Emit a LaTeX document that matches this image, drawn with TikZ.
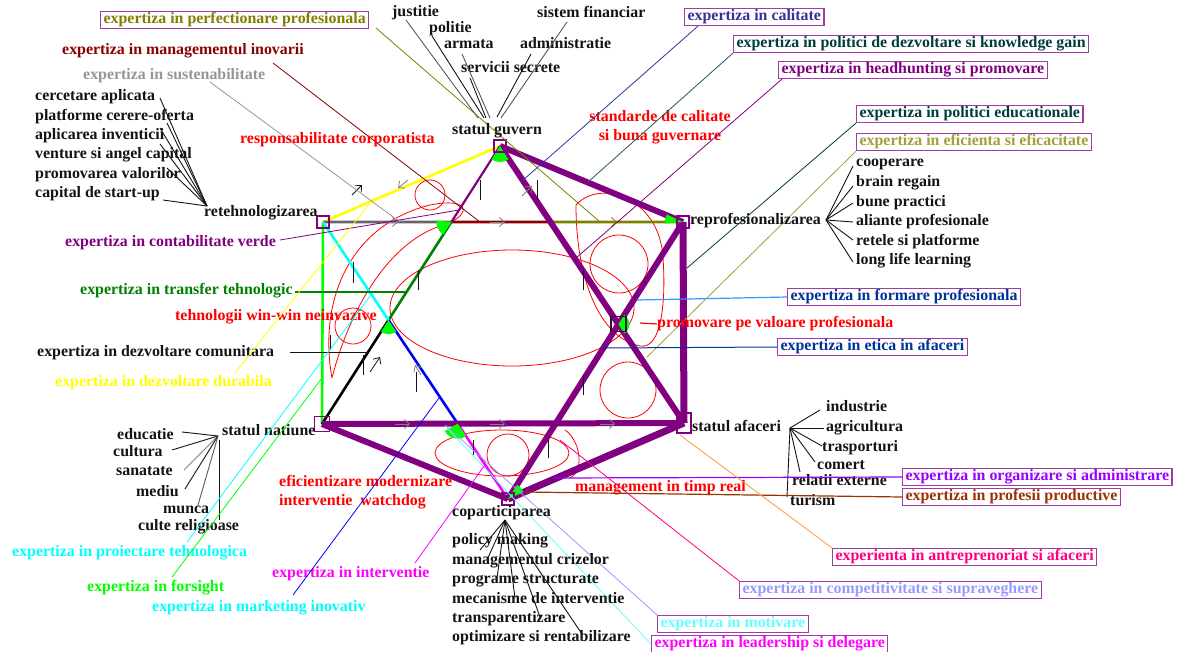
\documentclass[tikz,border=0pt]{standalone}
\usepackage{fontspec}
\setmainfont{Liberation Serif}
\usetikzlibrary{calc,arrows.meta}
\definecolor{cpurple}{RGB}{128,0,128}
\definecolor{cbox}{RGB}{160,60,170}
\definecolor{colive}{RGB}{128,128,0}
\definecolor{colivelt}{RGB}{160,160,60}
\definecolor{cdred}{RGB}{139,0,0}
\definecolor{cgray}{RGB}{150,150,150}
\definecolor{cdgreen}{RGB}{0,128,0}
\definecolor{cgreen}{RGB}{0,255,0}
\definecolor{cyellow}{RGB}{255,255,0}
\definecolor{ccyan}{RGB}{0,255,255}
\definecolor{cblue}{RGB}{0,0,255}
\definecolor{cmag}{RGB}{255,0,255}
\definecolor{cnavy}{RGB}{51,51,153}
\definecolor{cslate}{RGB}{40,90,90}
\definecolor{cteal}{RGB}{0,60,60}
\definecolor{cbluetxt}{RGB}{0,51,153}
\definecolor{cviolet}{RGB}{153,0,255}
\definecolor{cbrown}{RGB}{153,51,0}
\definecolor{cpink}{RGB}{255,0,128}
\definecolor{clav}{RGB}{153,153,255}
\definecolor{clcyan}{RGB}{102,255,255}
\definecolor{corange}{RGB}{255,153,51}
\definecolor{clblue}{RGB}{51,153,255}
\definecolor{cred}{RGB}{255,0,0}
\definecolor{cdark}{RGB}{20,20,20}
\tikzset{
  lb/.style={font=\fontsize{15.9}{18.5}\selectfont\bfseries, inner sep=0pt, anchor=west, text height=10.5pt, text depth=3.5pt, text=cdark},
  xb/.style={lb, draw=cbox, line width=1.2pt, inner xsep=3pt, inner ysep=1.5pt, fill=white},
  hubbox/.style={draw=cpurple, line width=1.3pt, minimum size=12pt, inner sep=0pt},
  heavy/.style={draw=cpurple, line width=6pt},
  seg/.style={line width=2.6pt},
  lead/.style={line width=0.8pt},
  blk/.style={line width=0.9pt, draw=cdark},
  scribble/.style={draw=cred, line width=0.8pt},
  chev/.style={-{Straight Barb[length=5pt,width=9pt]}, line width=0.8pt, draw=gray},
  tick/.style={line width=0.9pt, draw=cdark}
}
\begin{document}
\begin{tikzpicture}[x=1pt,y=-1pt]
\useasboundingbox (0,0) rectangle (1184,651);
\fill[white] (0,0) rectangle (1184,651);
% ---------- vertices
\coordinate (G) at (500,146);
\coordinate (R) at (323,222);
\coordinate (P) at (683,222);
\coordinate (A) at (684,423);
\coordinate (C) at (508,499);
\coordinate (N) at (322,424);
\coordinate (X1) at (intersection of N--G and R--P);
\coordinate (X2) at (intersection of N--G and R--C);
\coordinate (X3) at (intersection of R--C and N--A);
\coordinate (X4) at (intersection of G--A and R--P);
\coordinate (M) at (intersection of G--A and P--C);
% ---------- red scribbles
\draw[scribble] (512,308) ellipse [x radius=122, y radius=58];
\draw[scribble] (430,195) circle [radius=15];
\draw[scribble] (353,326) circle [radius=18];
\draw[scribble] (619,264) circle [radius=29];
\draw[scribble] (628,390) circle [radius=28];
\draw[scribble] (508,455) circle [radius=21];
\draw[scribble] (502,453) ellipse [x radius=67, y radius=23];
\draw[scribble] (332,378) .. controls (318,300) and (350,225) .. (430,205) .. controls (475,196) and (470,218) .. (440,226) .. controls (385,245) and (348,315) .. (332,378);
\draw[scribble] (576,205) .. controls (600,178) and (660,198) .. (663,258) .. controls (666,300) and (662,350) .. (640,346) .. controls (600,338) and (576,280) .. (576,205);
\draw[scribble] (565,430) .. controls (580,440) and (585,470) .. (570,478);
% ---------- hexagram lines
\draw[seg,draw=cyellow] (R) -- (G);
\draw[seg,draw=cgreen] (R) -- (N);
\draw[seg,draw=gray!80!black] (R) -- (X1);
\draw[seg,draw=cdred] (X1) -- (X4);
\draw[seg,draw=colive] (X4) -- (P);
\draw[seg,draw=black] (N) -- (X2);
\draw[seg,draw=cdgreen] (X2) -- (X1);
\draw[seg,draw=cpurple,line width=2.2pt] (X1) -- (G);
\draw[seg,draw=ccyan] (R) -- (X2);
\draw[seg,draw=cblue] (X2) -- (X3);
\draw[seg,draw=cmag] (X3) -- (C);
\draw[heavy] (G) -- (P);
\draw[heavy] (G) -- (A);
\draw[heavy,line width=7pt] (P) -- (A);
\draw[heavy] (P) -- (C);
\draw[heavy,line width=7pt] (A) -- (C);
\draw[heavy] (C) -- (N);
\draw[heavy] (N) -- (A);
% ---------- green angle marks
\fill[cgreen] (G) -- ++(58:16) arc[start angle=58, end angle=122, radius=16] -- cycle;
\fill[cgreen] (X1) -- ++(123:15) arc[start angle=123, end angle=185, radius=15] -- cycle;
\fill[cgreen] (P) -- ++(175:18) arc[start angle=175, end angle=205, radius=18] -- cycle;
\fill[cgreen] (X2) -- ++(56:14) arc[start angle=56, end angle=123, radius=14] -- cycle;
\fill[cgreen] (M) -- ++(-58:11) arc[start angle=-58, end angle=57, radius=11] -- cycle;
\fill[cgreen] (X3) -- ++(56:15) arc[start angle=56, end angle=150, radius=15] -- cycle;
\fill[cgreen] (C) -- ++(-58:17) arc[start angle=-58, end angle=-24, radius=17] -- cycle;
% ---------- chevrons and ticks
\draw[chev] (383,222) -- (398,222);
\draw[chev] (490,222) -- (505,222);
\draw[chev,draw=colive] (602,222) -- (617,222);
\draw[chev] (395,424) -- (410,424);
\draw[chev] (490,424) -- (505,424);
\draw[chev] (600,424) -- (615,424);
\draw[tick] (353,262) -- (353,283);
\draw[tick] (418,270) -- (418,290);
\draw[tick] (480,180) -- (480,200);
\draw[tick] (537,180) -- (537,200);
\draw[tick] (583,270) -- (583,290);
\draw[tick] (583,375) -- (583,395);
\draw[tick] (363,355) -- (363,375);
\draw[tick] (416,372) -- (416,392);
\draw[tick] (473,440) -- (473,455);
\draw[tick] (548,440) -- (548,458);
\draw[tick] (330,335) -- (330,350);
\draw[chev,draw=cdark] (352,195) -- (362,185);
\draw[chev,draw=cdark] (370,372) -- (380,357);
\draw[chev] (421,375) -- (415,365);
\draw[chev] (408,180) -- (398,188);
\draw[chev] (522,196) -- (532,186);
% ---------- hub boxes
\node[hubbox] (Gb) at (G) {};
\node[hubbox] (Rb) at (R) {};
\node[hubbox] (Pb) at (P) {};
\node[hubbox,minimum width=14pt,minimum height=20pt,line width=2pt] (Ab) at (A) {};
\node[hubbox] (Cb) at (C) {};
\node[hubbox,minimum size=15pt] (Nb) at (N) {};
\node[hubbox,draw=cdark!70!cpurple,minimum size=15pt] (Mb) at (M) {};
% ---------- top labels
\node[xb,text=colive] (tperf) at (100,20) {expertiza in perfectionare profesionala};
\node[lb,text=cdred] (tinov) at (62,51) {expertiza in managementul inovarii};
\node[lb,text=cgray] (tsust) at (83,76) {expertiza in sustenabilitate};
\coordinate (eperf) at (600,222);
\coordinate (einov) at (480,222);
\coordinate (esust) at (400,222);
\draw[lead,draw=colive] (376,28) -- (eperf);
\draw[lead,draw=cdred] (273,63) -- (einov);
\draw[lead,draw=cgray] (210,82) -- (esust);
% retehnologizarea list
\node[lb] (rt) at (204,213) {retehnologizarea};
\node[lb] (r1) at (35,97) {cercetare aplicata};
\node[lb] (r2) at (35,117) {platforme cerere-oferta};
\node[lb] (r3) at (35,136) {aplicarea inventicii};
\node[lb] (r4) at (35,155) {venture si angel capital};
\node[lb] (r5) at (35,175) {promovarea valorilor};
\node[lb] (r6) at (35,194) {capital de start-up};
\coordinate (RL) at (207,206);
\draw[blk] (160,98) -- (RL);
\draw[blk] (167,123) -- (RL);
\draw[blk] (160,128) -- (RL);
\draw[blk] (160,144) -- (RL);
\draw[blk] (167,168) -- (RL);
\draw[blk] (163,200) -- (RL);
\node[lb,text=cred] (tresp) at (240,140) {responsabilitate corporatista};
% guvern list
\node[lb] (sg) at (452,131) {statul guvern};
\node[lb] (g1) at (392,13) {justitie};
\node[lb] (g2) at (429,29) {politie};
\node[lb] (g3) at (444,45) {armata};
\node[lb] (g4) at (461,69) {servicii secrete};
\node[lb] (g5) at (537,14) {sistem financiar};
\node[lb] (g6) at (520,45) {administratie};
\draw[blk,draw=gray!70!black] (406,20) -- (478,118);
\draw[blk,draw=cdark] (432,36) -- (484,118);
\draw[blk,draw=gray!70!black] (462,54) -- (490,118);
\draw[blk,draw=cdark] (470,78) -- (486,118);
\draw[blk,draw=gray!70!black] (567,22) -- (501,118);
\draw[blk,draw=cdark] (531,54) -- (497,117);
\node[lb,text=cred,align=center,anchor=center,text height=, text depth=] (tstd) at (660,127) {standarde de calitate\\si buna guvernare};
% top right boxes
\node[xb,text=cnavy] (tcal) at (684,17) {expertiza in calitate};
\node[xb,text=cteal] (tpdk) at (733,44) {expertiza in politici de dezvoltare si knowledge gain};
\node[xb,text=cpurple] (thead) at (778,70) {expertiza in headhunting si promovare};
\node[xb,text=cteal] (tedu) at (856,114) {expertiza in politici educationale};
\node[xb,text=colivelt] (tefi) at (856,142) {expertiza in eficienta si eficacitate};
\draw[lead,draw=cnavy] (tcal.south west) ++(14,0) -- (522,181);
\draw[lead,draw=cslate] (tpdk.south west) -- (588,182);
\draw[lead,draw=cpurple] (thead.south west) ++(4,0) -- (576,258);
\draw[lead,draw=cteal] (tedu.south west) -- (687,268);
\draw[lead,draw=colivelt] (tefi.south west) -- (647,357);
% reprof list
\node[lb] (rp) at (690,221) {reprofesionalizarea};
\node[lb] (p1) at (856,163) {cooperare};
\node[lb] (p2) at (856,183) {brain regain};
\node[lb] (p3) at (856,203) {bune practici};
\node[lb] (p4) at (856,222) {aliante profesionale};
\node[lb] (p5) at (856,242) {retele si platforme};
\node[lb] (p6) at (856,261) {long life learning};
\coordinate (PL) at (826,220);
\draw[blk] (PL) -- (853,166);
\draw[blk] (PL) -- (853,186);
\draw[blk] (PL) -- (853,203);
\draw[blk] (PL) -- (853,222);
\draw[blk] (PL) -- (853,240);
\draw[blk] (PL) -- (853,262);
% left labels
\node[lb,text=cpurple] (tcont) at (65,243) {expertiza in contabilitate verde};
\node[lb,text=cdgreen] (ttran) at (80,291) {expertiza in transfer tehnologic};
\node[lb,text=cred] (twin) at (175,317) {tehnologii win-win neinvazive};
\node[lb] (tcom) at (37,353) {expertiza in dezvoltare comunitara};
\node[lb,text=cyellow] (tdur) at (55,383) {expertiza in dezvoltare durabila};
\draw[lead,draw=cpurple] (280,240) -- (459,210);
\draw[lead,draw=cdgreen,line width=1.2pt] (295,292) -- (406,292);
\draw[lead,draw=cdark] (290,352) -- (368,352);
\draw[lead,draw=cyellow] (235,373) -- (370,203);
% right middle
\node[xb,text=cbluetxt] (tfor) at (787,297) {expertiza in formare profesionala};
\node[lb,text=cred] (tprom) at (657,324) {promovare pe valoare profesionala};
\node[xb,text=cbluetxt] (teti) at (777,347) {expertiza in etica in afaceri};
\draw[lead,draw=clblue,line width=1.2pt] (637,300) -- (tfor.west);
\draw[lead,draw=cred,line width=1.2pt] (640,323) -- (tprom.west);
\draw[lead,draw=cbluetxt,line width=1pt] (603,348) -- (teti.west);
% afaceri list
\node[lb] (sa) at (692,428) {statul afaceri};
\node[lb] (a1) at (826,408) {industrie};
\node[lb] (a2) at (826,428) {agricultura};
\node[lb] (a3) at (822,448) {trasporturi};
\node[lb] (a4) at (817,466) {comert};
\node[lb] (a5) at (792,482) {relatii externe};
\node[lb] (a6) at (790,502) {turism};
\coordinate (AL) at (790,428);
\draw[blk] (AL) -- (820,410);
\draw[blk] (AL) -- (824,428);
\draw[blk] (AL) -- (822,446);
\draw[blk] (AL) -- (815,462);
\draw[blk] (AL) -- (800,472);
\draw[blk] (AL) -- (787,497);
% natiune list
\node[lb] (sn) at (222,432) {statul natiune};
\node[lb] (n1) at (117,436) {educatie};
\node[lb] (n2) at (113,453) {cultura};
\node[lb] (n3) at (116,472) {sanatate};
\node[lb] (n4) at (136,493) {mediu};
\node[lb] (n5) at (163,510) {munca};
\node[lb] (n6) at (138,527) {culte religioase};
\coordinate (NL) at (218,436);
\draw[blk] (182,432) -- (NL);
\draw[blk] (172,450) -- (NL);
\draw[blk,draw=gray] (184,470) -- (NL);
\draw[blk] (185,489) -- (NL);
\draw[blk,draw=gray!70!black] (198,505) -- (NL);
\draw[blk] (219,440) -- (219,520);
\node[lb,text=cred,align=left,text height=,text depth=] (teff) at (279,492) {eficientizare modernizare\\interventie\ \ watchdog};
% bottom right
\node[lb,text=cred] (tmgt) at (575,488) {management in timp real};
\node[xb,text=cviolet] (torg) at (902,477) {expertiza in organizare si administrare};
\node[xb,text=cbrown] (tpro) at (902,497) {expertiza in profesii productive};
\draw[lead,draw=cviolet,line width=1.2pt] (555,478) -- (torg.west);
\draw[lead,draw=cbrown,line width=1.2pt] (525,492) -- (tpro.west);
\node[xb,text=cpink] (tant) at (832,557) {experienta in antreprenoriat si afaceri};
\node[xb,text=clav] (tcmp) at (739,590) {expertiza in competitivitate si supraveghere};
\node[xb,text=clcyan] (tmot) at (657,624) {expertiza in motivare};
\node[xb,text=cmag] (tlea) at (651,644) {expertiza in leadership si delegare};
\draw[lead,draw=corange] (680,435) -- (tant.north west);
\draw[lead,draw=cpink] (tcmp.north west) -- (560,440);
\draw[lead,draw=clav] (tmot.north west) -- (445,425);
\draw[lead,draw=ccyan!60] (tlea.west) -- (447,428);
% copart list
\node[lb] (cp) at (452,513) {coparticiparea};
\node[lb] (c1) at (452,541) {policy making};
\node[lb] (c2) at (452,561) {managementul crizelor};
\node[lb] (c3) at (452,580) {programe structurate};
\node[lb] (c4) at (452,600) {mecanisme de interventie};
\node[lb] (c5) at (452,619) {transparentizare};
\node[lb] (c6) at (452,638) {optimizare si rentabilizare};
\coordinate (CL) at (505,520);
\draw[blk] (CL) -- (480,550);
\draw[blk] (CL) -- (487,560);
\draw[blk] (CL) -- (497,578);
\draw[blk] (CL) -- (515,598);
\draw[blk] (CL) -- (540,617);
\draw[blk] (CL) -- (582,634);
% bottom left
\node[lb,text=ccyan] (tpro2) at (12,553) {expertiza in proiectare tehnologica};
\node[lb,text=cgreen] (tfors) at (87,588) {expertiza in forsight};
\node[lb,text=ccyan] (tmkt) at (152,608) {expertiza in marketing inovativ};
\node[lb,text=cmag] (tint) at (272,574) {expertiza in interventie};
\draw[lead,draw=ccyan] (187,542) -- (370,296);
\draw[lead,draw=cgreen] (172,577) -- (322,378);
\draw[lead,draw=cblue] (293,595) -- (439,398);
\draw[lead,draw=cmag] (415,563) -- (484,466);
\end{tikzpicture}
\end{document}
